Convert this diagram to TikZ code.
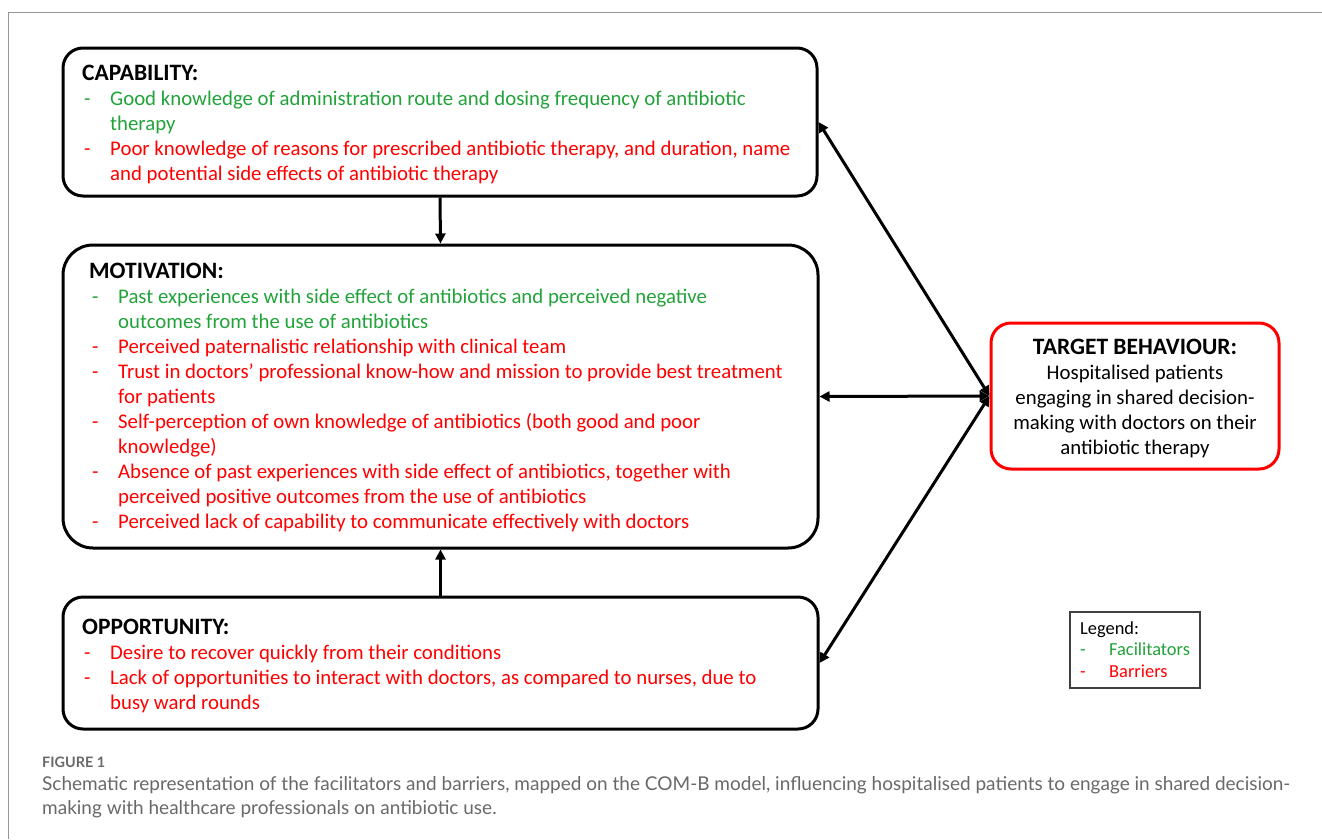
\documentclass[tikz,border=0pt]{standalone}
\usepackage{fontspec}
\setmainfont{Carlito}
\newfontfamily\capfont{Lato}
\usetikzlibrary{arrows.meta}
\definecolor{fgreen}{RGB}{34,163,58}
\definecolor{fred}{RGB}{255,0,0}
\definecolor{capgray}{RGB}{105,105,105}
\definecolor{framegray}{RGB}{150,150,150}
\newcommand{\G}[1]{\textcolor{fgreen}{#1}}
\newcommand{\R}[1]{\textcolor{fred}{#1}}
\newcommand{\hd}[1]{{\fontsize{23.5}{25}\selectfont\textbf{#1}}}
\begin{document}
\begin{tikzpicture}[x=1pt,y=-1pt,
  box/.style={draw=black, line width=3pt, rounded corners=20pt, inner sep=0pt},
  tgtbox/.style={draw=fred, line width=3pt, rounded corners=20pt, inner sep=0pt},
  legbox/.style={draw=black!75, line width=1.2pt, inner sep=0pt},
  txt/.style={inner sep=0pt, font=\fontsize{20.8}{25}\selectfont},
  legtxt/.style={inner sep=0pt, font=\fontsize{18.4}{21.5}\selectfont},
  arr/.style={line width=3pt, -{Triangle[length=10pt,width=10pt]}},
  darr/.style={line width=3pt, {Triangle[length=10pt,width=10pt]}-{Triangle[length=10pt,width=10pt]}},
]
\useasboundingbox (0,0) rectangle (1322,839);
\fill[white] (0,0) rectangle (1322,839);
\draw[framegray, line width=1pt] (8,839) -- (8,12) -- (1322,12);

% boxes
\node[box, minimum width=754pt, minimum height=148pt] (cap) at (440,122) {};
\node[box, rounded corners=30pt, minimum width=755pt, minimum height=303pt] (mot) at (440.5,396.5) {};
\node[box, minimum width=755pt, minimum height=132pt] (opp) at (440.5,663) {};
\node[tgtbox, minimum width=288pt, minimum height=146pt] (tgt) at (1135,396) {};
\node[legbox, minimum width=130pt, minimum height=76pt] (leg) at (1135,650) {};

% capability text
\node[txt, anchor=base west] (captxt) at (82,80) {\begin{tabular}[t]{@{}p{28pt}@{}l@{}}
\multicolumn{2}{@{}l@{}}{\hd{CAPABILITY:}}\\
\G{\hspace*{2pt}-} & \G{Good knowledge of administration route and dosing frequency of antibiotic}\\
 & \G{therapy}\\
\R{\hspace*{2pt}-} & \R{Poor knowledge of reasons for prescribed antibiotic therapy, and duration, name}\\
 & \R{and potential side effects of antibiotic therapy}
\end{tabular}};

% motivation text
\node[txt, anchor=base west] (mottxt) at (89,278) {\begin{tabular}[t]{@{}p{29pt}@{}l@{}}
\multicolumn{2}{@{}l@{}}{\hd{MOTIVATION:}}\\
\G{\hspace*{3pt}-} & \G{Past experiences with side effect of antibiotics and perceived negative}\\
 & \G{outcomes from the use of antibiotics}\\
\R{\hspace*{3pt}-} & \R{Perceived paternalistic relationship with clinical team}\\
\R{\hspace*{3pt}-} & \R{Trust in doctors’ professional know-how and mission to provide best treatment}\\
 & \R{for patients}\\
\R{\hspace*{3pt}-} & \R{Self-perception of own knowledge of antibiotics (both good and poor}\\
 & \R{knowledge)}\\
\R{\hspace*{3pt}-} & \R{Absence of past experiences with side effect of antibiotics, together with}\\
 & \R{perceived positive outcomes from the use of antibiotics}\\
\R{\hspace*{3pt}-} & \R{Perceived lack of capability to communicate effectively with doctors}
\end{tabular}};

% opportunity text
\node[txt, anchor=base west] (opptxt) at (82,634) {\begin{tabular}[t]{@{}p{28pt}@{}l@{}}
\multicolumn{2}{@{}l@{}}{\hd{OPPORTUNITY:}}\\
\R{\hspace*{2pt}-} & \R{Desire to recover quickly from their conditions}\\
\R{\hspace*{2pt}-} & \R{Lack of opportunities to interact with doctors, as compared to nurses, due to}\\
 & \R{busy ward rounds}
\end{tabular}};

% target text
\node[txt, anchor=base] (tgttxt) at (1135,354) {\begin{tabular}[t]{@{}c@{}}
\hd{TARGET BEHAVIOUR:}\\
Hospitalised patients\\
engaging in shared decision-\\
making with doctors on their\\
antibiotic therapy
\end{tabular}};

% legend text
\node[legtxt, anchor=base west] (legtxt) at (1080,634) {\begin{tabular}[t]{@{}p{29pt}@{}l@{}}
\multicolumn{2}{@{}l@{}}{Legend:}\\
\G{-} & \G{Facilitators}\\
\R{-} & \R{Barriers}
\end{tabular}};

% arrows
\draw[arr] (cap.south) -- (mot.north);
\draw[arr] (opp.north) -- (mot.south);
\draw[darr] (tgt.west) -- (cap.east);
\draw[darr] (tgt.west) -- (mot.east);
\draw[darr] (tgt.west) -- (opp.east);

% caption
\node[inner sep=0pt, anchor=base west, text=capgray, font=\capfont\fontsize{14.4}{16}\selectfont\bfseries] (figlbl) at (42,767) {FIGURE 1};
\node[inner sep=0pt, anchor=base west, text=capgray, font=\capfont\fontsize{19}{24}\selectfont] (caption) at (42,790) {\begin{tabular}[t]{@{}l@{}}Schematic representation of the facilitators and barriers, mapped on the COM-B model, influencing hospitalised patients to engage in shared decision-\\making with healthcare professionals on antibiotic use.\end{tabular}};
\end{tikzpicture}
\end{document}
